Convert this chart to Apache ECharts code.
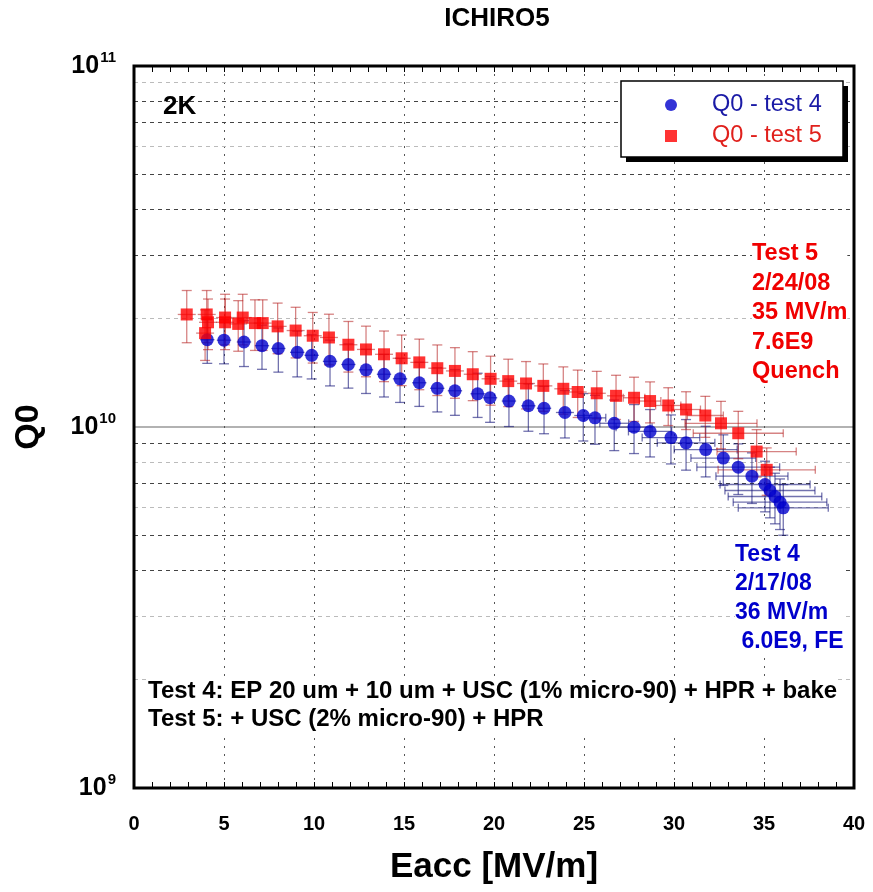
<!DOCTYPE html>
<html>
<head>
<meta charset="utf-8">
<title>ICHIRO5</title>
<script src="https://cdn.jsdelivr.net/npm/echarts@6/dist/echarts.min.js"></script>
<style>
  html, body { margin: 0; padding: 0; background: #fff; }
  #chart { width: 873px; height: 892px; }
</style>
</head>
<body>
<div id="chart"></div>
<script>
// test 4 (2/17/08): Eacc [MV/m], Q0 [x1e9], Q0 error [%], Eacc error [MV/m]
var t4E = [4.07, 5.0, 6.11, 7.11, 8.02, 9.07, 9.87, 10.89, 11.91, 12.89,
  13.89, 14.78, 15.85, 16.85, 17.83, 19.09, 19.78, 20.83, 21.91, 22.78,
  23.94, 24.96, 25.61, 26.68, 27.78, 28.67, 29.83, 30.67, 31.76, 32.74,
  33.57, 34.33, 35.06, 35.33, 35.61, 35.89, 36.07];
var t4Q = [17.45, 17.4, 17.2, 16.8, 16.5, 16.1, 15.8, 15.2, 14.9, 14.4,
  14.0, 13.6, 13.26, 12.8, 12.6, 12.36, 12.05, 11.8, 11.45, 11.27,
  10.97, 10.76, 10.6, 10.24, 9.99, 9.72, 9.35, 9.04, 8.66, 8.2,
  7.74, 7.31, 6.93, 6.67, 6.42, 6.19, 5.97];
var t4QErr = [14, 14, 14.5, 14, 14, 14.5, 14, 14.5, 14, 14,
  13.5, 14, 14, 14, 14.5, 14, 14.5, 15, 15, 15,
  15, 15, 15.5, 16, 15.5, 15, 15.5, 16, 16, 16,
  16, 16, 16, 16, 16, 16, 16];
var t4EErr = [0.4, 0.4, 0.4, 0.4, 0.4, 0.4, 0.4, 0.4, 0.4, 0.4,
  0.4, 0.4, 0.4, 0.4, 0.4, 0.4, 0.4, 0.4, 0.4, 0.4,
  0.5, 0.5, 0.6, 0.8, 1.0, 1.2, 1.6, 1.6, 1.75, 1.8,
  2.3, 2.0, 2.5, 2.5, 2.6, 2.6, 2.5];

// test 5 (2/24/08)
var t5E = [2.93, 3.95, 4.04, 4.11, 5.06, 5.06, 5.79, 6.04, 6.72, 7.15,
  7.98, 8.98, 9.93, 10.83, 11.91, 12.89, 13.89, 14.87, 15.85, 16.85,
  17.83, 18.82, 19.81, 20.79, 21.78, 22.74, 23.85, 24.65, 25.71, 26.78,
  27.78, 28.67, 29.68, 30.67, 31.74, 32.61, 33.57, 34.59, 35.15];
var t5Q = [20.5, 18.2, 20.5, 19.5, 20.1, 19.5, 19.3, 20.1, 19.4, 19.4,
  19.0, 18.5, 17.9, 17.7, 16.9, 16.4, 15.9, 15.5, 15.1, 14.55,
  14.3, 14.0, 13.6, 13.4, 13.2, 13.0, 12.76, 12.5, 12.4, 12.2,
  12.05, 11.8, 11.47, 11.18, 10.76, 10.24, 9.61, 8.55, 7.61];
var t5QErr = [16.5, 16, 16.5, 16, 16, 16, 16, 16, 16, 16,
  16, 16, 16, 16, 16, 16, 16, 16, 16, 16,
  16, 15.5, 15.5, 15, 15, 15, 15, 15, 15, 14,
  14, 13, 12, 12, 13, 15, 15, 15, 15];
var t5EErr = [0.5, 0.5, 0.5, 0.5, 0.5, 0.5, 0.5, 0.5, 0.5, 0.5,
  0.5, 0.5, 0.5, 0.5, 0.5, 0.5, 0.5, 0.5, 0.5, 0.5,
  0.5, 0.5, 0.5, 0.5, 0.5, 0.5, 0.5, 0.5, 0.5, 0.5,
  0.6, 0.6, 0.7, 0.8, 1.0, 2.0, 2.5, 2.2, 2.7];

// minor grid lines of the log axis
var gridDark = [4e9, 5e9, 7e9, 9e9, 3e10, 4e10, 5e10, 7e10, 8e10];
var gridLight = [2e9, 3e9, 6e9, 8e9, 2e10, 6e10, 9e10];

var F = "'Liberation Sans', Arial, sans-serif";

function toPoints(E, Q) {
  return E.map(function (e, i) { return [e, Q[i] * 1e9]; });
}
function toErrors(E, Q, qErr, eErr) {
  return E.map(function (e, i) {
    var q = Q[i] * 1e9;
    return [e, q, q * qErr[i] / 100, eErr[i]];
  });
}

function errorBars(color) {
  return function (params, api) {
    var x = api.value(0), q = api.value(1), dq = api.value(2), dx = api.value(3);
    var c = api.coord([x, q]);
    var top = api.coord([x, q + dq])[1];
    var bot = api.coord([x, q - dq])[1];
    var st = { stroke: color, lineWidth: 1.3 };
    var cap = 5;
    var kids = [
      { type: 'line', shape: { x1: c[0], y1: top, x2: c[0], y2: bot }, style: st },
      { type: 'line', shape: { x1: c[0] - cap, y1: top, x2: c[0] + cap, y2: top }, style: st },
      { type: 'line', shape: { x1: c[0] - cap, y1: bot, x2: c[0] + cap, y2: bot }, style: st }
    ];
    if (dx > 0) {
      var l = api.coord([x - dx, q])[0];
      var r = api.coord([x + dx, q])[0];
      kids.push({ type: 'line', shape: { x1: l, y1: c[1], x2: r, y2: c[1] }, style: st });
      if (dx > 0.5) {
        kids.push({ type: 'line', shape: { x1: l, y1: c[1] - 4, x2: l, y2: c[1] + 4 }, style: st });
        kids.push({ type: 'line', shape: { x1: r, y1: c[1] - 4, x2: r, y2: c[1] + 4 }, style: st });
      }
    }
    return { type: 'group', children: kids };
  };
}

function gridLines(vals, color) {
  return vals.map(function (v) {
    return { yAxis: v, lineStyle: { color: color, type: [4, 4], width: 1 } };
  });
}

var chart = echarts.init(document.getElementById('chart'));

var option = {
  backgroundColor: '#fff',
  animation: false,
  grid: {
    left: 134, top: 66, width: 720, height: 722,
    show: true, borderColor: '#000', borderWidth: 3, backgroundColor: 'transparent',
    z: 10
  },
  legend: {
    orient: 'vertical', left: 621, top: 81, z: 8,
    data: [
      { name: 'Q0 - test 4', textStyle: { color: '#1a1aa6' } },
      { name: 'Q0 - test 5', textStyle: { color: '#e0201c' } }
    ],
    backgroundColor: 'transparent', borderWidth: 0,
    padding: [12, 20, 11, 44], itemGap: 7, itemWidth: 12, itemHeight: 12,
    selectedMode: false,
    textStyle: { fontSize: 23.5, fontFamily: F, padding: [0, 0, 0, 30] }
  },
  xAxis: [{
    type: 'value', min: 0, max: 40, interval: 5,
    name: 'Eacc [MV/m]', nameLocation: 'middle', nameGap: 62,
    nameTextStyle: { fontSize: 35, fontWeight: 'bold', fontFamily: F, color: '#000' },
    axisLine: { show: false },
    axisTick: { show: true, inside: true, length: 6, lineStyle: { color: '#000' } },
    minorTick: { show: true, splitNumber: 5, length: 6, lineStyle: { color: '#000' } },
    axisLabel: { fontSize: 20, fontWeight: 'bold', fontFamily: F, color: '#000', margin: 26 },
    splitLine: { show: true, lineStyle: { color: '#555', type: [2, 6], width: 1 } }
  }, {
    type: 'value', min: 0, max: 40, interval: 5, position: 'top',
    axisLine: { show: false },
    axisTick: { show: true, inside: true, length: 6, lineStyle: { color: '#000' } },
    minorTick: { show: true, splitNumber: 5, length: 6, lineStyle: { color: '#000' } },
    axisLabel: { show: false },
    splitLine: { show: false }
  }],
  yAxis: {
    type: 'log', logBase: 10, min: 1e9, max: 1e11,
    name: 'Q0', nameLocation: 'middle', nameGap: 88,
    nameTextStyle: { fontSize: 34, fontWeight: 'bold', fontFamily: F, color: '#000' },
    axisLine: { show: false },
    axisTick: { show: false },
    axisLabel: {
      margin: 18, showMinLabel: true, showMaxLabel: true,
      formatter: function (v) { return '{b|10}{e|' + Math.round(Math.log10(v)) + '}'; },
      rich: {
        b: { fontSize: 25, fontWeight: 'bold', fontFamily: F, color: '#000' },
        e: { fontSize: 15, fontWeight: 'bold', fontFamily: F, color: '#000', padding: [0, 0, 16, 1] }
      }
    },
    splitLine: { show: true, lineStyle: { color: '#999', width: 1.5 } }
  },
  series: [{
    name: 'grid', type: 'scatter', data: [], z: 1, silent: true,
    markLine: {
      silent: true, symbol: 'none', label: { show: false }, animation: false, z: 1,
      data: gridLines(gridDark, '#444').concat(gridLines(gridLight, '#bbb'))
    }
  }, {
    name: 'err4', type: 'custom', z: 2, silent: true,
    renderItem: errorBars('rgba(20,20,120,0.6)'),
    encode: { x: 0, y: 1 },
    data: toErrors(t4E, t4Q, t4QErr, t4EErr)
  }, {
    name: 'err5', type: 'custom', z: 2, silent: true,
    renderItem: errorBars('rgba(180,30,30,0.55)'),
    encode: { x: 0, y: 1 },
    data: toErrors(t5E, t5Q, t5QErr, t5EErr)
  }, {
    name: 'Q0 - test 4', type: 'scatter', z: 3,
    symbol: 'circle', symbolSize: 13,
    itemStyle: { color: '#0000cc' },
    data: toPoints(t4E, t4Q)
  }, {
    name: 'Q0 - test 5', type: 'scatter', z: 4,
    symbol: 'rect', symbolSize: 12,
    itemStyle: { color: '#ff0000' },
    data: toPoints(t5E, t5Q)
  }],
  graphic: [{
    // legend frame with hard shadow
    type: 'rect', z: 6, shape: { x: 626, y: 86, width: 222, height: 76 },
    style: { fill: '#000' }
  }, {
    type: 'rect', z: 7, shape: { x: 621, y: 81, width: 222, height: 76 },
    style: { fill: '#fff', stroke: '#000', lineWidth: 1.5 }
  }, {
    type: 'text', z: 7, x: 497, y: 19,
    style: { text: 'ICHIRO5', font: 'bold 26px ' + F, fill: '#000', textAlign: 'center', verticalAlign: 'middle' }
  }, {
    type: 'text', z: 7, x: 163, y: 107,
    style: { text: '2K', font: 'bold 26px ' + F, fill: '#000', verticalAlign: 'middle' }
  }, {
    type: 'text', z: 7, x: 752, y: 313,
    style: { text: 'Test 5\n2/24/08\n35 MV/m\n7.6E9\nQuench', font: 'bold 23.5px ' + F,
      lineHeight: 29.5, fill: '#f00000', verticalAlign: 'middle', backgroundColor: '#fff' }
  }, {
    type: 'text', z: 7, x: 735, y: 598,
    style: { text: 'Test 4\n2/17/08\n36 MV/m\n 6.0E9, FE', font: 'bold 23px ' + F,
      lineHeight: 29, fill: '#0000cc', verticalAlign: 'middle', backgroundColor: '#fff' }
  }, {
    type: 'text', z: 7, x: 148, y: 705,
    style: { text: 'Test 4: EP 20 um + 10 um + USC (1% micro-90) + HPR + bake\nTest 5: + USC (2% micro-90) + HPR',
      font: 'bold 24px ' + F, lineHeight: 28, fill: '#000', verticalAlign: 'middle', backgroundColor: '#fff' }
  }]
};

chart.setOption(option);
</script>
</body>
</html>
